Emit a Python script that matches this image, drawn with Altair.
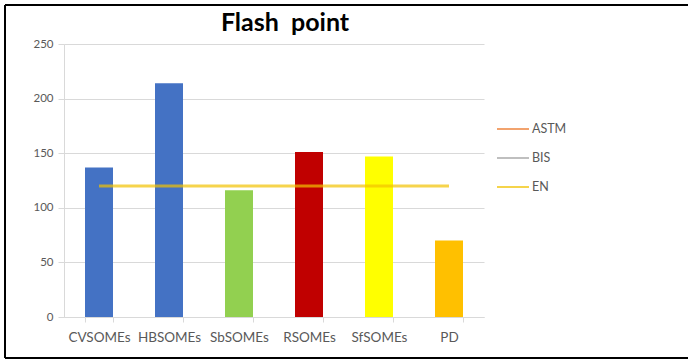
import altair as alt
import pandas as pd

# Flash point of the methyl ester samples
samples = ["CVSOMEs", "HBSOMEs", "SbSOMEs", "RSOMEs", "SfSOMEs", "PD"]
flash_point = [137, 214, 116, 151, 147, 70]
bar_colors = ["#4472C4", "#4472C4", "#92D050", "#C00000", "#FFFF00", "#FFC000"]

# Standard limits shown as reference lines
standards = ["ASTM", "BIS", "EN"]
standard_colors = ["#ED7D31", "#A5A5A5", "#F2C200"]
en_limit = [120, 120, 120, 120, 120, 120]

y_ticks = [0, 50, 100, 150, 200, 250]
title_text = ["Flash\u00a0 point"]

bars_df = pd.DataFrame({"sample": samples, "value": flash_point, "color": bar_colors})
line_df = pd.DataFrame({"sample": samples, "value": en_limit, "standard": ["EN"] * len(samples)})

FONT = "Lato"
LABEL_COLOR = "#595959"
GRID = "#D9D9D9"

x_enc = alt.X(
    "sample:N",
    sort=samples,
    title=None,
    scale=alt.Scale(paddingInner=0.6, paddingOuter=0.3),
    axis=alt.Axis(
        labelAngle=0,
        labelFont=FONT,
        labelFontSize=13.5,
        labelColor=LABEL_COLOR,
        labelPadding=8,
        domainColor=GRID,
        tickColor=GRID,
        tickSize=5,
        tickBand="extent",
        grid=False,
    ),
)
y_enc = alt.Y(
    "value:Q",
    title=None,
    scale=alt.Scale(domain=[0, 250], nice=False),
    axis=alt.Axis(
        values=y_ticks,
        labelFont=FONT,
        labelFontSize=11.5,
        labelColor=LABEL_COLOR,
        labelPadding=5,
        domainColor=GRID,
        tickColor=GRID,
        tickSize=6,
        gridColor=GRID,
        gridWidth=1,
    ),
)

bars = alt.Chart(bars_df).mark_bar().encode(
    x=x_enc,
    y=y_enc,
    color=alt.Color("color:N", scale=None),
)

en_line = alt.Chart(line_df).mark_line(strokeWidth=3, opacity=0.7).encode(
    x=alt.X("sample:N", sort=samples),
    y="value:Q",
    color=alt.Color(
        "standard:N",
        scale=alt.Scale(domain=standards, range=standard_colors),
        legend=alt.Legend(
            title=None,
            orient="none",
            legendX=432,
            legendY=68,
            symbolType="stroke",
            symbolSize=1024,
            symbolStrokeWidth=2,
            labelFont=FONT,
            labelFontSize=12.5,
            labelColor=LABEL_COLOR,
            labelOffset=2,
            rowPadding=5,
        ),
    ),
)

# Chart title drawn as a text mark above the plot
title = alt.Chart(pd.DataFrame({"t": title_text})).mark_text(
    font=FONT, fontSize=25, fontWeight="bold", color="black", align="center", baseline="alphabetic"
).encode(text="t:N", x=alt.value(221), y=alt.value(-13))

# Black frame around the figure (left, top and bottom edges)
frame_df = pd.DataFrame({"k": [0]})
frame_left = alt.Chart(frame_df).mark_rule(color="black", strokeWidth=2).encode(
    x=alt.value(-59), y=alt.value(-39), y2=alt.value(314)
)
frame_top = alt.Chart(frame_df).mark_rule(color="black", strokeWidth=2).encode(
    x=alt.value(-59), x2=alt.value(624), y=alt.value(-39)
)
frame_bottom = alt.Chart(frame_df).mark_rule(color="black", strokeWidth=2).encode(
    x=alt.value(-59), x2=alt.value(624), y=alt.value(314)
)

chart = (
    alt.layer(bars, en_line, title, frame_left, frame_top, frame_bottom)
    .resolve_scale(color="independent")
    .properties(
        width=420,
        height=273,
        padding={"left": 64, "top": 44, "right": 204, "bottom": 43},
        autosize=alt.AutoSizeParams(type="none"),
        background="white",
    )
    .configure_view(stroke=None)
)

chart.save("out.html", embed_options={"renderer": "svg", "actions": False})
